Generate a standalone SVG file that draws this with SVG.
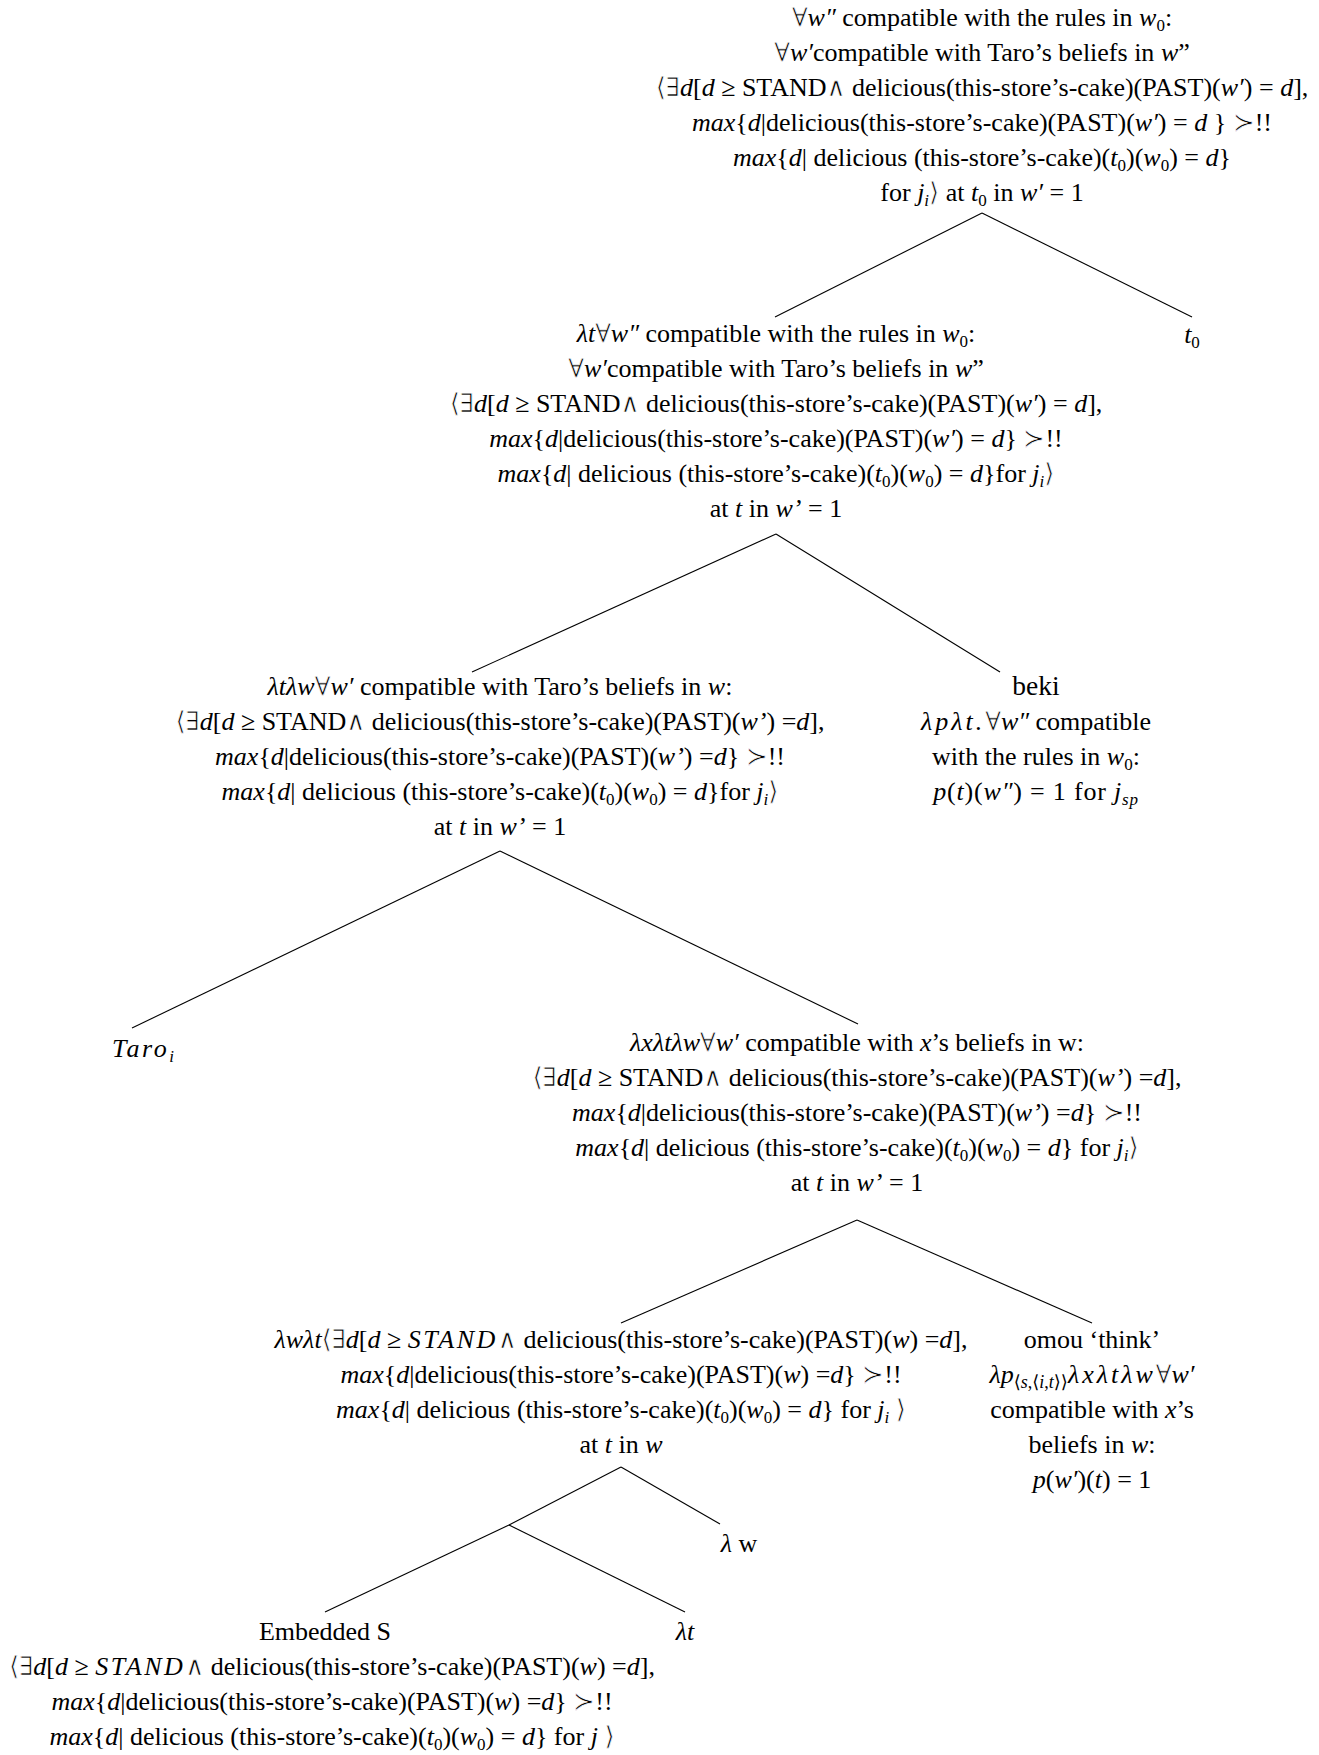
<svg xmlns="http://www.w3.org/2000/svg" width="1319" height="1755" viewBox="0 0 1319 1755">
<style>
text{font-family:"Liberation Serif","DejaVu Serif",serif;font-size:26px;fill:#000;text-anchor:middle}
.i{font-style:italic}
.s{font-size:17px;baseline-shift:-5px}
.sp{letter-spacing:2.5px}
.y{stroke:#fff;stroke-width:0.7px}
.m{letter-spacing:2px}
#edges line{stroke:#000;stroke-width:1.1}
</style>
<rect width="1319" height="1755" fill="#fff"/>
<g id="edges">
<line x1="982" y1="213" x2="775" y2="317"/>
<line x1="982" y1="213" x2="1192" y2="317"/>
<line x1="776" y1="534" x2="472" y2="672"/>
<line x1="776" y1="534" x2="1000" y2="672"/>
<line x1="500" y1="851" x2="132" y2="1028"/>
<line x1="500" y1="851" x2="858" y2="1024"/>
<line x1="857" y1="1220" x2="621" y2="1323"/>
<line x1="857" y1="1220" x2="1092" y2="1323"/>
<line x1="621" y1="1467" x2="509" y2="1525"/>
<line x1="509" y1="1525" x2="325" y2="1612"/>
<line x1="509" y1="1525" x2="685" y2="1612"/>
<line x1="621" y1="1467" x2="720" y2="1524"/>
</g>
<g id="n-root">
<text x="982" y="26"><tspan class="y">∀</tspan><tspan class="i">w″</tspan> compatible with the rules in <tspan class="i">w</tspan><tspan class="s">0</tspan>:</text>
<text x="982" y="61"><tspan class="y">∀</tspan><tspan class="i">w′</tspan>compatible with Taro’s beliefs in <tspan class="i">w</tspan>”</text>
<text x="982" y="96"><tspan class="y">⟨∃</tspan><tspan class="i">d</tspan>[<tspan class="i">d</tspan> ≥ STAND<tspan class="y">∧</tspan> delicious(this-store’s-cake)(PAST)(<tspan class="i">w′</tspan>) = <tspan class="i">d</tspan>],</text>
<text x="982" y="131"><tspan class="i">max</tspan>{<tspan class="i">d</tspan>|delicious(this-store’s-cake)(PAST)(<tspan class="i">w′</tspan>) = <tspan class="i">d</tspan> } <tspan class="y">≻</tspan>!!</text>
<text x="982" y="166"><tspan class="i">max</tspan>{<tspan class="i">d</tspan>| delicious (this-store’s-cake)(<tspan class="i">t</tspan><tspan class="s">0</tspan>)(<tspan class="i">w</tspan><tspan class="s">0</tspan>) = <tspan class="i">d</tspan>}</text>
<text x="982" y="201">for <tspan class="i">j</tspan><tspan class="s i">i</tspan><tspan class="y">⟩</tspan> at <tspan class="i">t</tspan><tspan class="s">0</tspan> in <tspan class="i">w′</tspan> = 1</text>
</g>
<g id="n-t0">
<text x="1192" y="343"><tspan class="i">t</tspan><tspan class="s">0</tspan></text>
</g>
<g id="n-2">
<text x="776" y="342"><tspan class="i">λt</tspan><tspan class="y">∀</tspan><tspan class="i">w″</tspan> compatible with the rules in <tspan class="i">w</tspan><tspan class="s">0</tspan>:</text>
<text x="776" y="377"><tspan class="y">∀</tspan><tspan class="i">w′</tspan>compatible with Taro’s beliefs in <tspan class="i">w</tspan>”</text>
<text x="776" y="412"><tspan class="y">⟨∃</tspan><tspan class="i">d</tspan>[<tspan class="i">d</tspan> ≥ STAND<tspan class="y">∧</tspan> delicious(this-store’s-cake)(PAST)(<tspan class="i">w′</tspan>) = <tspan class="i">d</tspan>],</text>
<text x="776" y="447"><tspan class="i">max</tspan>{<tspan class="i">d</tspan>|delicious(this-store’s-cake)(PAST)(<tspan class="i">w′</tspan>) = <tspan class="i">d</tspan>} <tspan class="y">≻</tspan>!!</text>
<text x="776" y="482"><tspan class="i">max</tspan>{<tspan class="i">d</tspan>| delicious (this-store’s-cake)(<tspan class="i">t</tspan><tspan class="s">0</tspan>)(<tspan class="i">w</tspan><tspan class="s">0</tspan>) = <tspan class="i">d</tspan>}for <tspan class="i">j</tspan><tspan class="s i">i</tspan><tspan class="y">⟩</tspan></text>
<text x="776" y="517">at <tspan class="i">t</tspan> in <tspan class="i">w’</tspan> = 1</text>
</g>
<g id="n-3">
<text x="500" y="695"><tspan class="i">λtλw</tspan><tspan class="y">∀</tspan><tspan class="i">w′</tspan> compatible with Taro’s beliefs in <tspan class="i">w</tspan>:</text>
<text x="500" y="730"><tspan class="y">⟨∃</tspan><tspan class="i">d</tspan>[<tspan class="i">d</tspan> ≥ STAND<tspan class="y">∧</tspan> delicious(this-store’s-cake)(PAST)(<tspan class="i">w’</tspan>) =<tspan class="i">d</tspan>],</text>
<text x="500" y="765"><tspan class="i">max</tspan>{<tspan class="i">d</tspan>|delicious(this-store’s-cake)(PAST)(<tspan class="i">w’</tspan>) =<tspan class="i">d</tspan>} <tspan class="y">≻</tspan>!!</text>
<text x="500" y="800"><tspan class="i">max</tspan>{<tspan class="i">d</tspan>| delicious (this-store’s-cake)(<tspan class="i">t</tspan><tspan class="s">0</tspan>)(<tspan class="i">w</tspan><tspan class="s">0</tspan>) = <tspan class="i">d</tspan>}for <tspan class="i">j</tspan><tspan class="s i">i</tspan><tspan class="y">⟩</tspan></text>
<text x="500" y="835">at <tspan class="i">t</tspan> in <tspan class="i">w’</tspan> = 1</text>
</g>
<g id="n-beki">
<text x="1036" y="695" style="font-size:27.5px">beki</text>
<text x="1036" y="730"><tspan class="i" style="letter-spacing:3px">λpλt.</tspan><tspan class="y">∀</tspan><tspan class="i">w″</tspan> compatible</text>
<text x="1036" y="765">with the rules in <tspan class="i">w</tspan><tspan class="s">0</tspan>:</text>
<text x="1036" y="800" style="letter-spacing:0.8px"><tspan class="i">p</tspan>(<tspan class="i">t</tspan>)(<tspan class="i">w″</tspan>) = 1 for <tspan class="i">j</tspan><tspan class="s i">sp</tspan></text>
</g>
<g id="n-taro">
<text x="143" y="1057"><tspan class="i sp">Taro</tspan><tspan class="s i">i</tspan></text>
</g>
<g id="n-4">
<text x="857" y="1051"><tspan class="i">λxλtλw</tspan><tspan class="y">∀</tspan><tspan class="i">w′</tspan> compatible with <tspan class="i">x</tspan>’s beliefs in w:</text>
<text x="857" y="1086"><tspan class="y">⟨∃</tspan><tspan class="i">d</tspan>[<tspan class="i">d</tspan> ≥ STAND<tspan class="y">∧</tspan> delicious(this-store’s-cake)(PAST)(<tspan class="i">w’</tspan>) =<tspan class="i">d</tspan>],</text>
<text x="857" y="1121"><tspan class="i">max</tspan>{<tspan class="i">d</tspan>|delicious(this-store’s-cake)(PAST)(<tspan class="i">w’</tspan>) =<tspan class="i">d</tspan>} <tspan class="y">≻</tspan>!!</text>
<text x="857" y="1156"><tspan class="i">max</tspan>{<tspan class="i">d</tspan>| delicious (this-store’s-cake)(<tspan class="i">t</tspan><tspan class="s">0</tspan>)(<tspan class="i">w</tspan><tspan class="s">0</tspan>) = <tspan class="i">d</tspan>} for <tspan class="i">j</tspan><tspan class="s i">i</tspan><tspan class="y">⟩</tspan></text>
<text x="857" y="1191">at <tspan class="i">t</tspan> in <tspan class="i">w’</tspan> = 1</text>
</g>
<g id="n-5">
<text x="621" y="1348"><tspan class="i">λwλt</tspan><tspan class="y">⟨∃</tspan><tspan class="i">d</tspan>[<tspan class="i">d</tspan> ≥ <tspan class="i sp">STAND</tspan><tspan class="y">∧</tspan> delicious(this-store’s-cake)(PAST)(<tspan class="i">w</tspan>) =<tspan class="i">d</tspan>],</text>
<text x="621" y="1383"><tspan class="i">max</tspan>{<tspan class="i">d</tspan>|delicious(this-store’s-cake)(PAST)(<tspan class="i">w</tspan>) =<tspan class="i">d</tspan>} <tspan class="y">≻</tspan>!!</text>
<text x="621" y="1418"><tspan class="i">max</tspan>{<tspan class="i">d</tspan>| delicious (this-store’s-cake)(<tspan class="i">t</tspan><tspan class="s">0</tspan>)(<tspan class="i">w</tspan><tspan class="s">0</tspan>) = <tspan class="i">d</tspan>} for <tspan class="i">j</tspan><tspan class="s i">i</tspan> <tspan class="y">⟩</tspan></text>
<text x="621" y="1453">at <tspan class="i">t</tspan> in <tspan class="i">w</tspan></text>
</g>
<g id="n-omou">
<text x="1092" y="1348">omou ‘think’</text>
<text x="1092" y="1383"><tspan class="i">λp</tspan><tspan class="s" style="font-size:18px">⟨<tspan class="i">s</tspan>,⟨<tspan class="i">i</tspan>,<tspan class="i">t</tspan>⟩⟩</tspan><tspan class="i" style="letter-spacing:3px">λxλtλw</tspan><tspan class="y">∀</tspan><tspan class="i">w′</tspan></text>
<text x="1092" y="1418">compatible with <tspan class="i">x</tspan>’s</text>
<text x="1092" y="1453">beliefs in <tspan class="i">w</tspan>:</text>
<text x="1092" y="1488"><tspan class="i">p</tspan>(<tspan class="i">w′</tspan>)(<tspan class="i">t</tspan>) = 1</text>
</g>
<g id="n-lw">
<text x="739" y="1552"><tspan class="i">λ</tspan> w</text>
</g>
<g id="n-emb">
<text x="325" y="1640">Embedded S</text>
<text x="332" y="1675"><tspan class="y">⟨∃</tspan><tspan class="i">d</tspan>[<tspan class="i">d</tspan> ≥ <tspan class="i sp">STAND</tspan><tspan class="y">∧</tspan> delicious(this-store’s-cake)(PAST)(<tspan class="i">w</tspan>) =<tspan class="i">d</tspan>],</text>
<text x="332" y="1710"><tspan class="i">max</tspan>{<tspan class="i">d</tspan>|delicious(this-store’s-cake)(PAST)(<tspan class="i">w</tspan>) =<tspan class="i">d</tspan>} <tspan class="y">≻</tspan>!!</text>
<text x="332" y="1745"><tspan class="i">max</tspan>{<tspan class="i">d</tspan>| delicious (this-store’s-cake)(<tspan class="i">t</tspan><tspan class="s">0</tspan>)(<tspan class="i">w</tspan><tspan class="s">0</tspan>) = <tspan class="i">d</tspan>} for <tspan class="i">j</tspan> <tspan class="y">⟩</tspan></text>
</g>
<g id="n-lt">
<text x="685" y="1640"><tspan class="i">λt</tspan></text>
</g>
</svg>
